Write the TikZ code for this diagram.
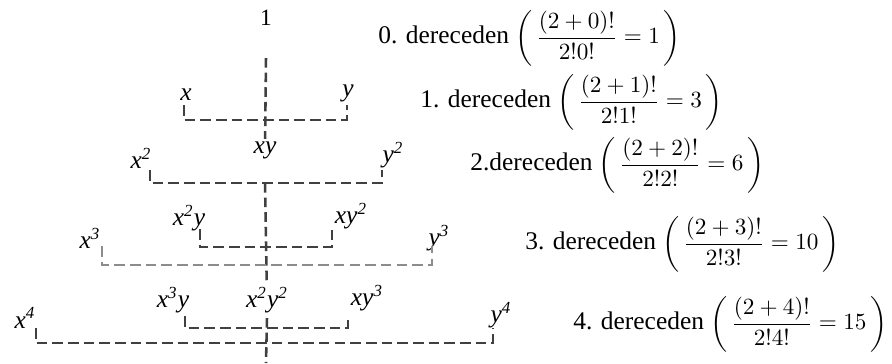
\documentclass[tikz,border=0pt]{standalone}
\usepackage{amsmath}
\usepackage{fontspec}
\setmainfont{Liberation Serif}
\newcommand{\degreeformula}[3]{#1 {\fontsize{11}{13}\selectfont$\left(\,\dfrac{(2+#2)!}{2!#2!}=#3\,\right)$}}
\delimiterfactor=880
\begin{document}
\begin{tikzpicture}[
        x=0.472pt, y=-0.472pt,
        lbl/.style={inner sep=1pt, font=\fontsize{12}{14}\selectfont\itshape},
        degree/.style={anchor=west, inner sep=0pt, font=\fontsize{12}{14}\selectfont},
        bracket/.style={draw=black!75, line width=1.2pt, dash pattern=on 5pt off 2.4pt},
        centreline/.style={draw=black!75, line width=1.2pt, dash pattern=on 4.5pt off 2.4pt},
        faint/.style={draw=black!45},
    ]
    \useasboundingbox (0,0) rectangle (892,363);
    % labels of the pyramid
    \node[lbl, font=\fontsize{11}{13}\selectfont](one) at (266,18){1};
    \node[lbl](x1) at (186,95){x};
    \node[lbl](y1) at (348,93){y};
    \node[lbl](xy) at (265,150){xy};
    \node[lbl](x2) at (141,158){x\textsuperscript{2}};
    \node[lbl](y2) at (393,155){y\textsuperscript{2}};
    \node[lbl](x2y) at (189,218){x\textsuperscript{2}y};
    \node[lbl](xy2) at (351,216){xy\textsuperscript{2}};
    \node[lbl](x3) at (90,238){x\textsuperscript{3}};
    \node[lbl](y3) at (439,238){y\textsuperscript{3}};
    \node[lbl](x3y) at (173,300){x\textsuperscript{3}y};
    \node[lbl](x2y2) at (267,300){x\textsuperscript{2}y\textsuperscript{2}};
    \node[lbl](xy3) at (367,298){xy\textsuperscript{3}};
    \node[lbl](x4) at (25,318){x\textsuperscript{4}};
    \node[lbl](y4) at (501,315){y\textsuperscript{4}};
    \coordinate (bottom) at (266,363);
    % middle line
    \draw[centreline] (one) ++(0,40) -- (xy);
    \draw[centreline] (xy) ++(0,33) -- (x2y2);
    \draw[centreline] (x2y2) ++(0,18) -- (bottom);
    % brackets
    \draw[bracket] (184,105) |- (347,120) -- (347,105);
    \draw[bracket] (150,170) |- (382,183) -- (382,170);
    \draw[bracket] (200,229) |- (332,247) -- (332,229);
    \draw[bracket, faint] (102,246) |- (432,265) -- (432,246);
    \draw[bracket] (185,316) |- (348,328) -- (348,316);
    \draw[bracket] (36,328) |- (493,343) -- (493,328);
    % degrees
    \node[degree](d0) at (378,38){\degreeformula{0. dereceden}{0}{1}};
    \node[degree](d1) at (420,102){\degreeformula{1. dereceden}{1}{3}};
    \node[degree](d2) at (470,165){\degreeformula{2.dereceden}{2}{6}};
    \node[degree](d3) at (525,244){\degreeformula{3. dereceden}{3}{10}};
    \node[degree](d4) at (573,324){\degreeformula{4. dereceden}{4}{15}};
\end{tikzpicture}
\end{document}
